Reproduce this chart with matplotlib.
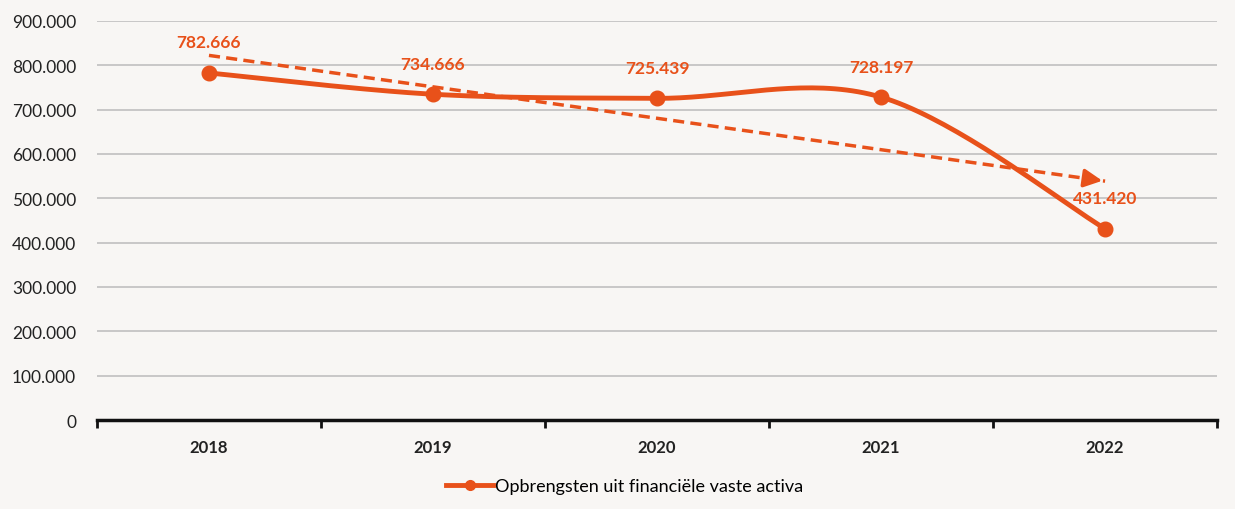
import numpy as np
import matplotlib.pyplot as plt

# data
years = ["2018", "2019", "2020", "2021", "2022"]
values = [782666, 734666, 725439, 728197, 431420]
yticks = [0, 100000, 200000, 300000, 400000, 500000, 600000, 700000, 800000, 900000]
series_name = "Opbrengsten uit financiële vaste activa"

orange = "#e8511a"
bg = "#f8f6f4"


def fmt(v):
    return f"{v:,.0f}".replace(",", ".")


def smooth(xs, ys, n=40):
    # bezier smoothing like spreadsheet "smoothed line"
    xs = np.asarray(xs, float)
    ys = np.asarray(ys, float)
    px = np.concatenate([[xs[0]], xs, [xs[-1]]])
    py = np.concatenate([[ys[0]], ys, [ys[-1]]])
    outx, outy = [], []
    t = np.linspace(0, 1, n)
    for i in range(1, len(px) - 2):
        p0 = np.array([px[i], py[i]])
        p3 = np.array([px[i + 1], py[i + 1]])
        c1 = p0 + (np.array([px[i + 1], py[i + 1]]) - np.array([px[i - 1], py[i - 1]])) / 6
        c2 = p3 - (np.array([px[i + 2], py[i + 2]]) - np.array([px[i], py[i]])) / 6
        b = ((1 - t) ** 3)[:, None] * p0 + (3 * (1 - t) ** 2 * t)[:, None] * c1 \
            + (3 * (1 - t) * t ** 2)[:, None] * c2 + (t ** 3)[:, None] * p3
        outx.extend(b[:, 0])
        outy.extend(b[:, 1])
    return np.array(outx), np.array(outy)


plt.rcParams['font.family'] = ['Lato', 'DejaVu Sans']

fig = plt.figure(figsize=(12.35, 5.1), dpi=100)
fig.patch.set_facecolor(bg)
ax = fig.add_axes([0.0785, 0.1745, 0.907, 0.7825])
ax.set_facecolor(bg)

x = np.arange(len(years))
sx, sy = smooth(x, values)
ax.plot(sx, sy, color=orange, lw=3.5, solid_capstyle="round", zorder=3)
ax.plot(x, values, "o", color=orange, ms=10.5, zorder=4)

# linear trend line with arrow
k, b0 = np.polyfit(x, values, 1)
tx = np.array([x[0], x[-1]])
ty = k * tx + b0
ax.plot(tx, ty, color=orange, lw=2.5, ls=(0, (3.2, 1.8)), zorder=3)
ax.annotate("", xy=(tx[1], ty[1]), xytext=(tx[1] - 0.08, ty[1] + 0.08 * (-k)),
            arrowprops=dict(arrowstyle="-|>,head_length=1.1,head_width=0.55",
                            color=orange, lw=2.5), zorder=3)

for xi, v in zip(x, values):
    ax.annotate(fmt(v), (xi, v), xytext=(0, 22), textcoords="offset points",
                ha="center", va="center", color=orange, fontsize=12.5,
                fontweight="bold", zorder=5)

ax.set_xlim(-0.5, len(years) - 0.5)
ax.set_ylim(0, 900000)
ax.set_yticks(yticks)
ax.set_yticklabels([fmt(v) for v in yticks], fontsize=12.5, color="#222222")
ax.tick_params(axis="y", length=0, pad=15)
ax.grid(axis="y", color="#c4c4c4", lw=1.3)
ax.set_axisbelow(True)

ax.set_xticks(x)
ax.set_xticklabels(years, fontsize=12, fontweight="bold", color="#222222")
ax.set_xticks(np.arange(-0.5, len(years)), minor=True)
ax.tick_params(axis="x", which="major", length=0, pad=14)
ax.tick_params(axis="x", which="minor", length=6, width=2, color="#111111", direction="out")

for s in ["left", "right", "top"]:
    ax.spines[s].set_visible(False)
ax.spines["bottom"].set_linewidth(2.5)
ax.spines["bottom"].set_color("#111111")

ax.legend([plt.Line2D([], [], color=orange, lw=3.5, marker="o", ms=7)], [series_name],
          loc="center", bbox_to_anchor=(0.471, -0.165), frameon=False, fontsize=13,
          handlelength=2.6, handletextpad=0.1)

fig.savefig("out.png", dpi=100, facecolor=bg)
